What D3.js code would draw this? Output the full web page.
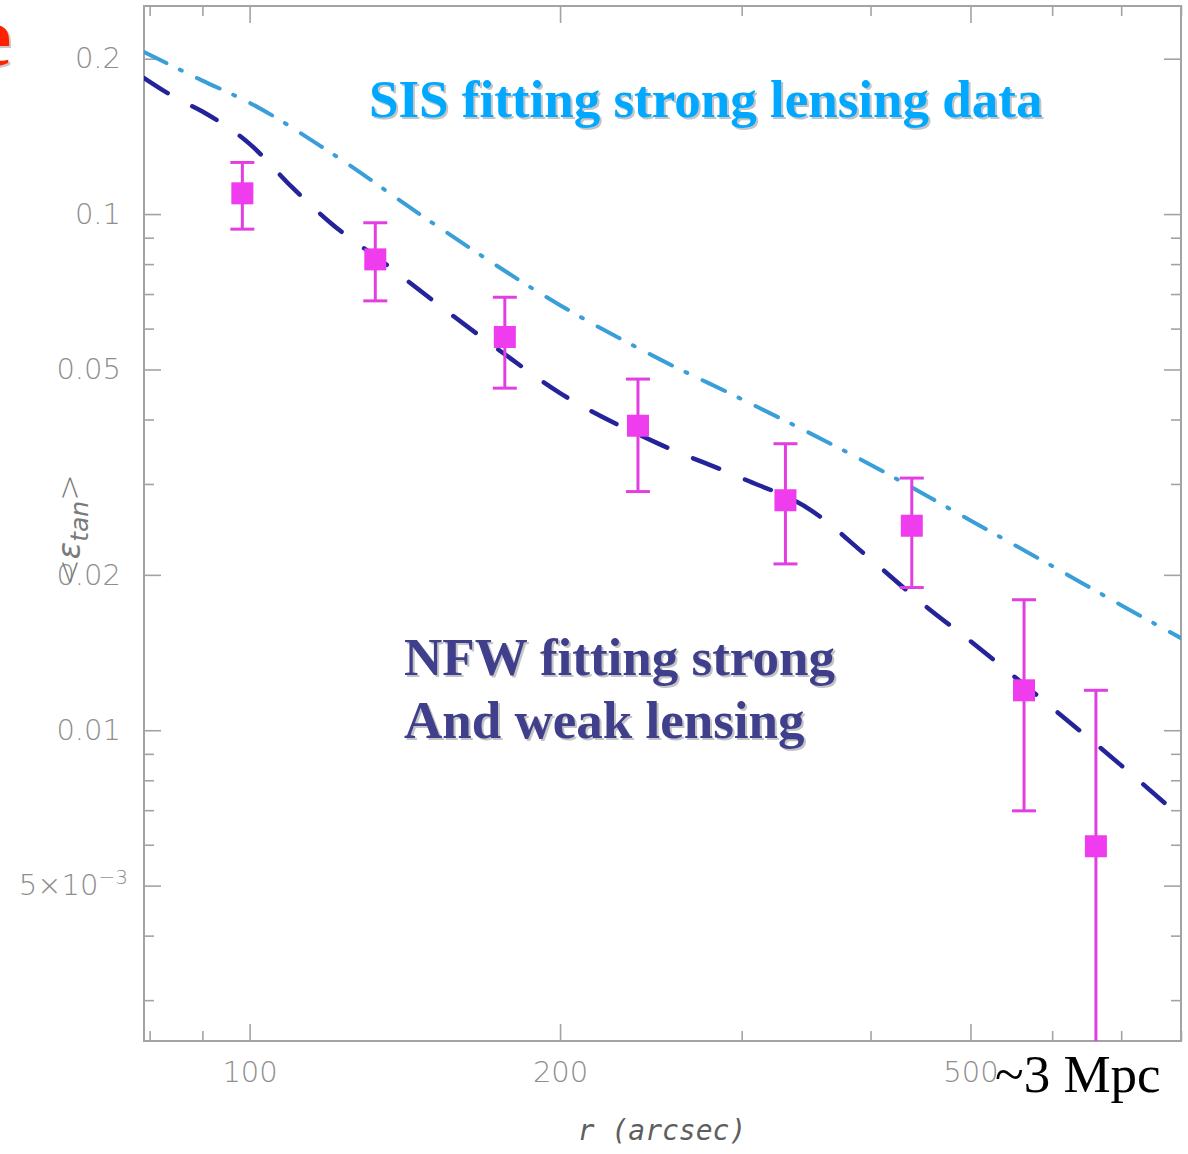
<!DOCTYPE html>
<html>
<head>
<meta charset="utf-8">
<script src="https://cdn.jsdelivr.net/npm/d3@7"></script>
<style>
  html, body { margin: 0; padding: 0; background: #fff; }
  svg { display: block; }
</style>
</head>
<body>
<svg id="chart" width="1188" height="1154"></svg>
<script>
// Radius (arcsec) of the tangential shear bins and measured <e_tan>
const binRadius = [98.4, 132.4, 176.8, 238.0, 330.8, 438.6, 563.5, 661.6];
const shearMean = [0.1097, 0.0817, 0.0578, 0.0389, 0.0279, 0.0249, 0.01195, 0.00596];
const shearHigh = [0.1259, 0.0962, 0.0690, 0.0479, 0.0359, 0.0308, 0.0179, 0.01195];
const shearLow  = [0.0935, 0.0679, 0.0460, 0.0290, 0.0210, 0.0189, 0.00698, 0.0020];

// SIS model fitted to strong lensing
const sisRadius = [79, 90, 100, 120, 150, 200, 250, 300, 400, 500, 600, 700, 800];
const sisShear  = [0.2061, 0.1814, 0.1643, 0.1313, 0.0965, 0.0666, 0.0523, 0.0438, 0.0327, 0.0255, 0.0208, 0.01747, 0.01508];

// NFW model fitted to strong + weak lensing
const nfwRadius = [79, 85, 90, 100, 110, 120, 135, 150, 175, 200, 250, 300, 350, 400, 450, 500, 600, 700, 800];
const nfwShear  = [0.1835, 0.1675, 0.1580, 0.1368, 0.1126, 0.0959, 0.0805, 0.0684, 0.0543, 0.0450, 0.0358, 0.0308, 0.0267, 0.02145, 0.01754, 0.01488, 0.01105, 0.00855, 0.00678];

// Axis ticks
const xMajorTicks = [100, 200, 500];
const xMinorTicks = [80, 90, 300, 400, 600, 700, 800];
const yMajorTicks = [0.2, 0.1, 0.05, 0.02, 0.01, 0.005];
const yMinorTicks = [0.003, 0.004, 0.006, 0.007, 0.008, 0.009, 0.03, 0.04, 0.06, 0.07, 0.08, 0.09];
const yTickLabels = ["0.2", "0.1", "0.05", "0.02", "0.01", "5×10"];

const svg = d3.select("#chart");
const L = 144, R = 1181, T = 6, B = 1041;

const x = d3.scaleLog().domain([79, 800]).range([L, R]);
const y = d3.scaleLog().domain([0.0025, 0.253]).range([B, T]);

const axisColor = "#a3a3a3";
const labelColor = "#8e8e8e";

// clip region for model curves and error bars
svg.append("defs").append("clipPath").attr("id", "plotClip")
  .append("rect").attr("x", L).attr("y", T).attr("width", R - L).attr("height", B - T);

// red heading glyph at the page edge (with soft shadow)
svg.append("text").attr("x", -24).attr("y", 67)
  .attr("font-family", "Liberation Serif, serif").attr("font-weight", "bold")
  .attr("font-size", 84).attr("fill", "#c9c9c9").text("e");
svg.append("text").attr("x", -26).attr("y", 65)
  .attr("font-family", "Liberation Serif, serif").attr("font-weight", "bold")
  .attr("font-size", 84).attr("fill", "#ff2200").text("e");

// ---- axes ----
function styleAxis(g) {
  g.select(".domain").remove();
  g.selectAll(".tick line").attr("stroke", axisColor).attr("stroke-width", 1.6);
  g.selectAll(".tick text")
    .attr("fill", labelColor)
    .attr("font-family", "DejaVu Sans, sans-serif")
    .attr("font-weight", 300)
    .attr("font-size", 29);
}

// bottom
svg.append("g").attr("transform", `translate(0,${B})`)
  .call(d3.axisBottom(x).tickValues(xMajorTicks).tickSize(-17).tickPadding(20).tickFormat(d3.format("d")))
  .call(styleAxis);
svg.append("g").attr("transform", `translate(0,${B})`)
  .call(d3.axisBottom(x).tickValues(xMinorTicks).tickSize(-10).tickFormat(""))
  .call(styleAxis);
// top
svg.append("g").attr("transform", `translate(0,${T})`)
  .call(d3.axisTop(x).tickValues(xMajorTicks).tickSize(-17).tickFormat(""))
  .call(styleAxis);
svg.append("g").attr("transform", `translate(0,${T})`)
  .call(d3.axisTop(x).tickValues(xMinorTicks).tickSize(-10).tickFormat(""))
  .call(styleAxis);
// left
const yLeft = svg.append("g").attr("transform", `translate(${L},0)`)
  .call(d3.axisLeft(y).tickValues(yMajorTicks).tickSize(-17).tickPadding(23)
    .tickFormat((d, i) => yTickLabels[i]))
  .call(styleAxis);
// exponent on the 5x10^-3 label
yLeft.selectAll(".tick text").filter(d => d === 0.005)
  .attr("dx", 7)
  .append("tspan").attr("dy", "-0.55em").attr("font-size", 20).text("−3");
svg.append("g").attr("transform", `translate(${L},0)`)
  .call(d3.axisLeft(y).tickValues(yMinorTicks).tickSize(-10).tickFormat(""))
  .call(styleAxis);
// right
svg.append("g").attr("transform", `translate(${R},0)`)
  .call(d3.axisRight(y).tickValues(yMajorTicks).tickSize(-17).tickFormat(""))
  .call(styleAxis);
svg.append("g").attr("transform", `translate(${R},0)`)
  .call(d3.axisRight(y).tickValues(yMinorTicks).tickSize(-10).tickFormat(""))
  .call(styleAxis);

// frame
svg.append("rect").attr("x", L).attr("y", T).attr("width", R - L).attr("height", B - T)
  .attr("fill", "none").attr("stroke", axisColor).attr("stroke-width", 2);

// axis titles
svg.append("text")
  .attr("transform", "translate(80,530) rotate(-90)")
  .attr("text-anchor", "middle")
  .attr("fill", "#7a7a7a")
  .attr("font-family", "DejaVu Sans, sans-serif")
  .attr("font-weight", 300)
  .attr("font-size", 32)
  .call(t => {
    t.append("tspan").text("<");
    t.append("tspan").attr("font-style", "italic").text("ε");
    t.append("tspan").attr("font-style", "italic").attr("font-size", 25).attr("dy", 8).text("tan");
    t.append("tspan").attr("dy", -8).text(">");
  });

svg.append("text")
  .attr("x", 662).attr("y", 1140)
  .attr("text-anchor", "middle")
  .attr("fill", "#5e5e5e")
  .attr("font-family", "DejaVu Sans Mono, monospace")
  .attr("font-style", "italic")
  .attr("font-size", 28)
  .text("r (arcsec)");

// ---- model curves ----
const plot = svg.append("g").attr("clip-path", "url(#plotClip)");

const line = d3.line().x(d => x(d[0])).y(d => y(d[1])).curve(d3.curveMonotoneX);

plot.append("path")
  .datum(sisRadius.map((r, i) => [r, sisShear[i]]))
  .attr("d", line)
  .attr("fill", "none")
  .attr("stroke", "#3a9fd8")
  .attr("stroke-width", 4)
  .attr("stroke-linecap", "round")
  .attr("stroke-dasharray", "25 15 2 17");

plot.append("path")
  .datum(nfwRadius.map((r, i) => [r, nfwShear[i]]))
  .attr("d", line)
  .attr("fill", "none")
  .attr("stroke", "#24249a")
  .attr("stroke-width", 4.5)
  .attr("stroke-linecap", "round")
  .attr("stroke-dasharray", "28 28");

// ---- measured points with error bars ----
const pts = binRadius.map((r, i) => ({ r, v: shearMean[i], hi: shearHigh[i], lo: shearLow[i] }));
const magenta = "#e23fe2";

const eb = plot.append("g").selectAll("g").data(pts).join("g");
eb.append("line")
  .attr("x1", d => x(d.r)).attr("x2", d => x(d.r))
  .attr("y1", d => y(d.hi)).attr("y2", d => y(d.lo))
  .attr("stroke", magenta).attr("stroke-width", 3);
eb.append("line")
  .attr("x1", d => x(d.r) - 12).attr("x2", d => x(d.r) + 12)
  .attr("y1", d => y(d.hi)).attr("y2", d => y(d.hi))
  .attr("stroke", magenta).attr("stroke-width", 3);
eb.filter(d => y(d.lo) < B - 2).append("line")
  .attr("x1", d => x(d.r) - 12).attr("x2", d => x(d.r) + 12)
  .attr("y1", d => y(d.lo)).attr("y2", d => y(d.lo))
  .attr("stroke", magenta).attr("stroke-width", 3);
eb.append("rect")
  .attr("x", d => x(d.r) - 11).attr("y", d => y(d.v) - 11)
  .attr("width", 22).attr("height", 22)
  .attr("fill", "#ee3cee");

// ---- annotations ----
function shadowText(txt, xPos, yPos, color) {
  const common = s => s.attr("font-family", "Liberation Serif, Times New Roman, serif")
    .attr("font-weight", "bold").attr("font-size", 53);
  svg.append("text").attr("x", xPos + 2).attr("y", yPos + 2).attr("fill", "#c4c4c4").call(common).text(txt);
  svg.append("text").attr("x", xPos).attr("y", yPos).attr("fill", color).call(common).text(txt);
}
shadowText("SIS fitting strong lensing data", 369, 117, "#00a8ff");
shadowText("NFW fitting strong", 404, 675, "#3f3f8c");
shadowText("And weak lensing", 404, 738, "#3f3f8c");

svg.append("text")
  .attr("x", 995).attr("y", 1092)
  .attr("font-family", "Liberation Serif, Times New Roman, serif")
  .attr("font-size", 53)
  .attr("fill", "#000")
  .text("~3 Mpc");
</script>
</body>
</html>
